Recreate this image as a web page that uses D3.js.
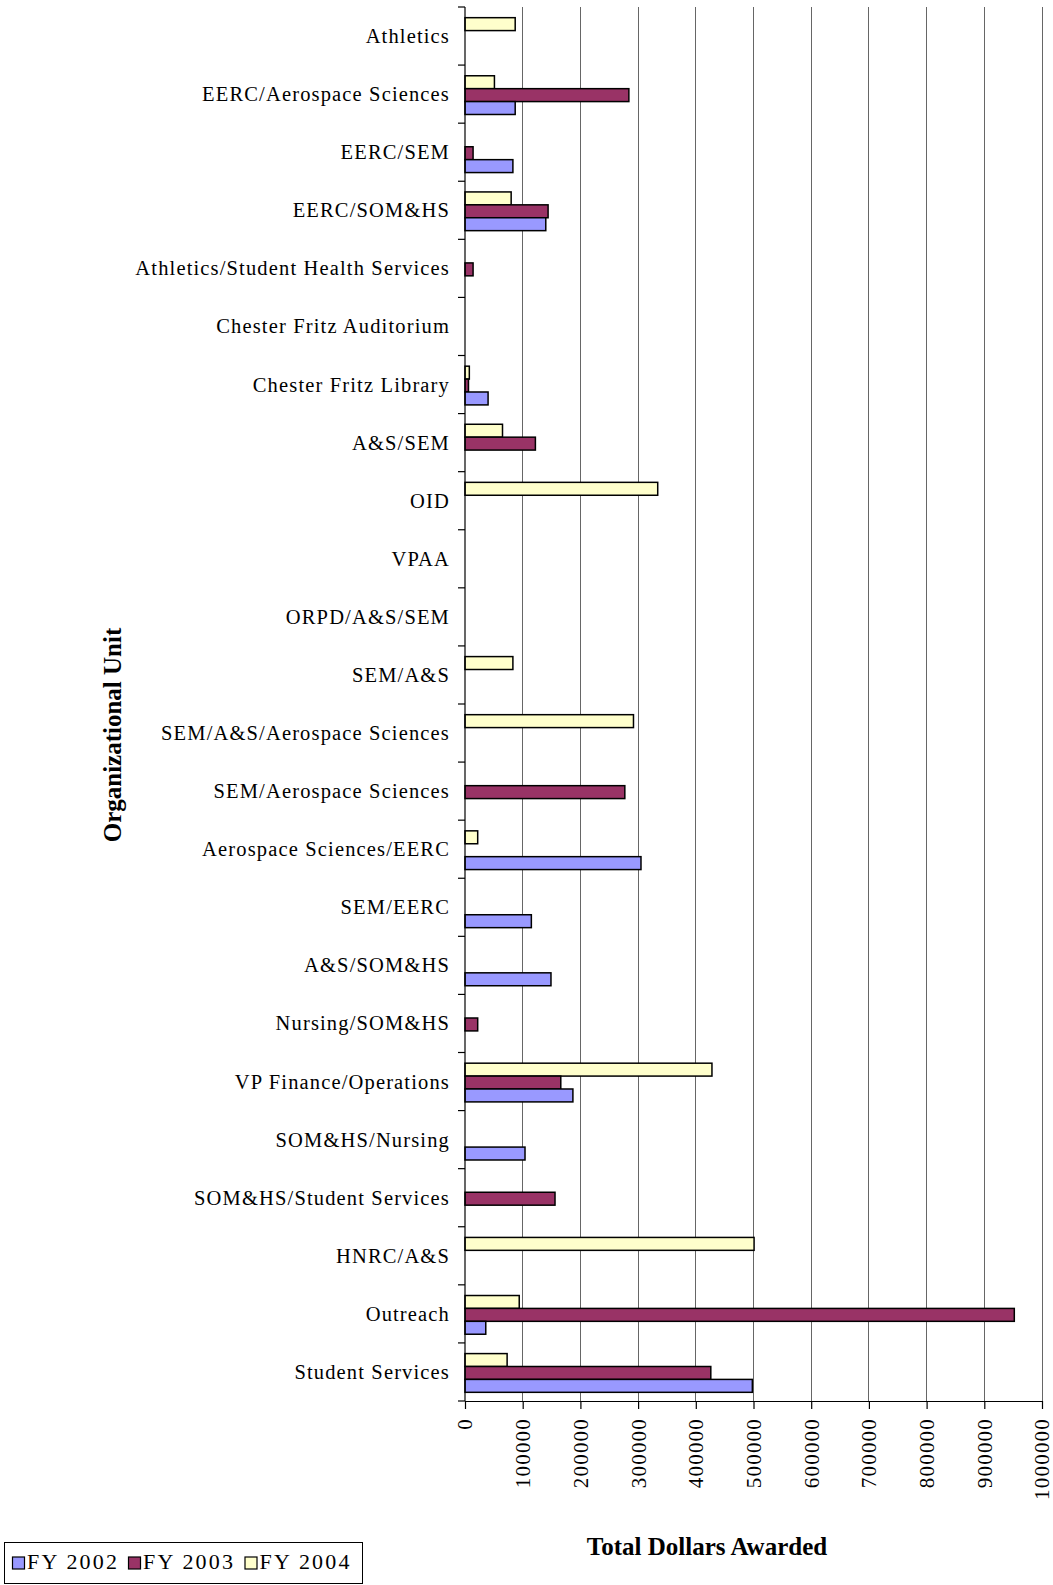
<!DOCTYPE html>
<html><head><meta charset="utf-8">
<script src="https://cdn.jsdelivr.net/npm/d3@7"></script>
<style>
html,body{margin:0;padding:0;background:#fff;}
svg{display:block;}
text{font-family:"Liberation Serif","Times New Roman",serif;fill:#000;}
</style></head>
<body>
<svg id="chart" width="1053" height="1585"></svg>
<script>
const categories = ["Athletics","EERC/Aerospace Sciences","EERC/SEM","EERC/SOM&HS","Athletics/Student Health Services","Chester Fritz Auditorium","Chester Fritz Library","A&S/SEM","OID","VPAA","ORPD/A&S/SEM","SEM/A&S","SEM/A&S/Aerospace Sciences","SEM/Aerospace Sciences","Aerospace Sciences/EERC","SEM/EERC","A&S/SOM&HS","Nursing/SOM&HS","VP Finance/Operations","SOM&HS/Nursing","SOM&HS/Student Services","HNRC/A&S","Outreach","Student Services"];
const seriesNames = ["FY 2004","FY 2003","FY 2002"];
const fy2002 = [0,87000,83000,140000,0,0,40000,0,0,0,0,0,0,0,305000,115000,149000,0,187000,104000,0,0,36000,498000];
const fy2003 = [0,284000,14000,144000,14000,0,6000,122000,0,0,0,0,0,277000,0,0,0,22000,166000,0,156000,0,952000,426000];
const fy2004 = [87000,51000,0,80000,0,0,7500,65000,334000,0,0,83000,292000,0,22000,0,0,0,428000,0,0,501000,94000,73000];
const xTicks = [0,100000,200000,300000,400000,500000,600000,700000,800000,900000,1000000];
const legendNames = ["FY 2002","FY 2003","FY 2004"];
const colors = {"FY 2002":"#9999FF","FY 2003":"#993366","FY 2004":"#FFFFCC"};
const seriesValues = {"FY 2002":fy2002,"FY 2003":fy2003,"FY 2004":fy2004};

const svg = d3.select("#chart");
const pLeft = 465, pRight = 1042, pTop = 7, pBottom = 1401;

const x = d3.scaleLinear().domain([0,1000000]).range([pLeft,pRight]);
const y = d3.scaleBand().domain(categories).range([pTop,pBottom]).padding(0);
const bw = y.bandwidth();
const inner = d3.scaleBand().domain(seriesNames).range([bw*0.75/4.5 + 1, bw - bw*0.75/4.5 + 1]).padding(0);

// gridlines
svg.append("g").selectAll("line").data(xTicks.slice(1)).join("line")
  .attr("x1",d=>x(d)).attr("x2",d=>x(d)).attr("y1",pTop).attr("y2",pBottom)
  .attr("stroke","#666").attr("stroke-width",1).attr("shape-rendering","crispEdges");

// bars
const rows = [];
categories.forEach((c,i)=>{
  seriesNames.forEach(s=>{
    const v = seriesValues[s][i];
    if(v>0) rows.push({c,s,v});
  });
});
svg.append("g").selectAll("rect").data(rows).join("rect")
  .attr("x",x(0)).attr("y",d=>y(d.c)+inner(d.s))
  .attr("width",d=>x(d.v)-x(0)).attr("height",inner.bandwidth())
  .attr("fill",d=>colors[d.s]).attr("stroke","#000").attr("stroke-width",1.5);

// y axis
const yAxis = svg.append("g");
yAxis.append("line").attr("x1",pLeft).attr("x2",pLeft).attr("y1",pTop).attr("y2",pBottom)
  .attr("stroke","#000").attr("stroke-width",1.2);
const bounds = categories.map(c=>y(c)).concat([pBottom]);
yAxis.selectAll("line.t").data(bounds).join("line").attr("class","t")
  .attr("x1",pLeft-7).attr("x2",pLeft).attr("y1",d=>d).attr("y2",d=>d)
  .attr("stroke","#000").attr("stroke-width",1.2);
yAxis.selectAll("text").data(categories).join("text")
  .attr("x",450).attr("y",d=>y(d)+bw/2+7)
  .attr("text-anchor","end").attr("font-size",20.5).attr("letter-spacing","1.15px")
  .text(d=>d);

// x axis
const xAxis = svg.append("g").attr("transform",`translate(0,${pBottom})`)
  .call(d3.axisBottom(x).tickValues(xTicks).tickSize(8).tickSizeOuter(0).tickFormat(d3.format("d")));
xAxis.select(".domain").attr("stroke","#000").attr("stroke-width",1.2);
xAxis.selectAll(".tick line").attr("stroke","#000").attr("stroke-width",1.2);
xAxis.selectAll(".tick text")
  .attr("font-size",21).attr("letter-spacing","1.2px")
  .attr("fill","#000")
  .attr("transform","rotate(-90)").attr("text-anchor","end")
  .attr("x",-17).attr("y",0).attr("dy","0.33em");

// axis titles
svg.append("text").attr("transform","translate(112,735) rotate(-90)")
  .attr("text-anchor","middle").attr("dominant-baseline","central")
  .attr("font-size",25).attr("font-weight","bold").text("Organizational Unit");
svg.append("text").attr("x",707).attr("y",1555)
  .attr("text-anchor","middle").attr("font-size",25).attr("font-weight","bold").text("Total Dollars Awarded");

// legend
const lg = svg.append("g");
lg.append("rect").attr("x",4.5).attr("y",1542.5).attr("width",358).attr("height",41)
  .attr("fill","#fff").attr("stroke","#000").attr("stroke-width",1);
const lx = [12.5,128.5,245];
legendNames.forEach((n,i)=>{
  lg.append("rect").attr("x",lx[i]).attr("y",1557).attr("width",12).attr("height",12)
    .attr("fill",colors[n]).attr("stroke","#000").attr("stroke-width",1.2);
  lg.append("text").attr("x",lx[i]+14.5).attr("y",1568.5).attr("font-size",22)
    .attr("letter-spacing","2.2px").text(n);
});
</script>
</body></html>
